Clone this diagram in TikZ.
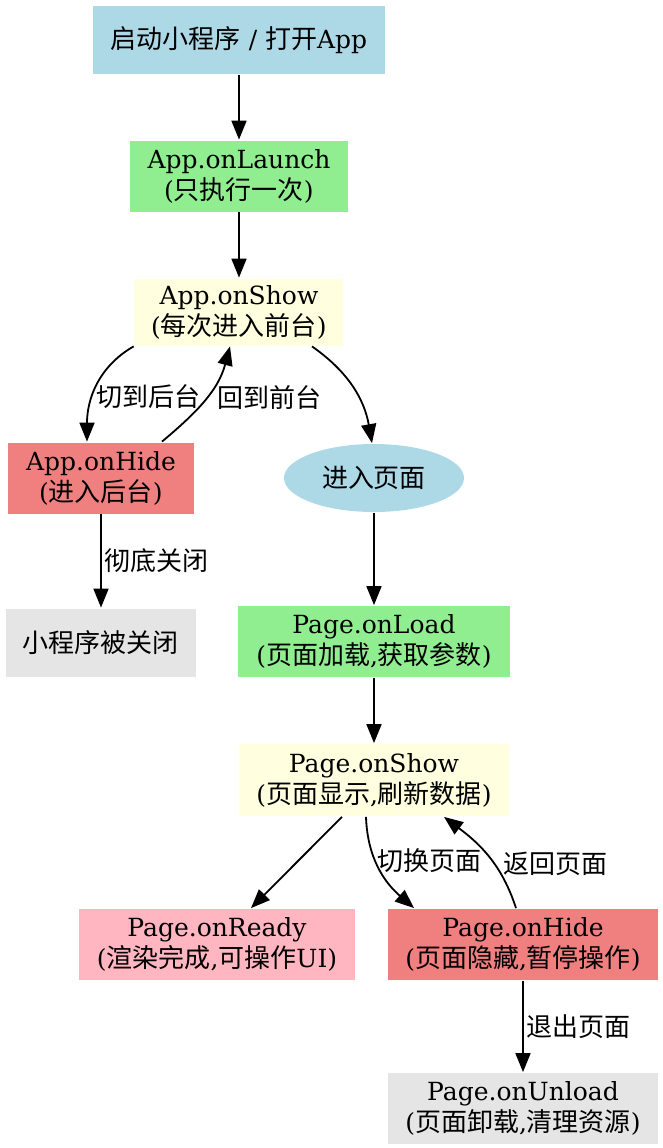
\documentclass[tikz,border=0pt]{standalone}
\usepackage{fontspec}
\setmainfont{DejaVu Serif}
\newfontfamily\cjk{Noto Sans CJK SC}[Scale=1.04]
\usetikzlibrary{arrows.meta, positioning, shapes.geometric}
\definecolor{lblue}{HTML}{ADD8E6}
\definecolor{lgreen}{HTML}{90EE90}
\definecolor{lyellow}{HTML}{FFFFE0}
\definecolor{lcoral}{HTML}{F08080}
\definecolor{lpink}{HTML}{FFB6C1}
\definecolor{lgray}{HTML}{E5E5E5}

\begin{document}
\begin{tikzpicture}[>={Triangle[length=9.5pt,width=7.5pt]}, on grid, line width=0.9pt,
  every node/.style={font=\fontsize{12.5}{15.5}\selectfont, align=center, inner sep=0pt},
  box/.style={rectangle, minimum height=35.5pt},
  lbl/.style={right, inner sep=1.5pt, font=\fontsize{12.5}{15.5}\selectfont\cjk}]

\useasboundingbox (-119.5pt,20pt) rectangle (212pt,-554pt);

% アプリ側ノード
\node[box, fill=lblue, minimum width=146pt, minimum height=34pt] (start) {{\cjk 启动小程序} / {\cjk 打开}App};
\node[box, fill=lgreen, minimum width=109pt] (launch) [below=68pt of start] {App.onLaunch\\({\cjk 只执行一次})};
\node[box, fill=lyellow, minimum width=104.5pt, minimum height=33.5pt] (appshow) [below=68pt of launch] {App.onShow\\({\cjk 每次进入前台})};
\node[box, fill=lcoral, minimum width=93pt] (apphide) [below left=83pt and 69pt of appshow] {App.onHide\\({\cjk 进入后台})};
\node[box, fill=lgray, minimum width=95pt, minimum height=34pt] (closed) [below=82.25pt of apphide] {{\cjk 小程序被关闭}};

% ページ側ノード
\node[ellipse, fill=lblue, minimum width=90pt, minimum height=34pt] (enter) [below right=83pt and 67.5pt of appshow] {{\cjk 进入页面}};
\node[box, fill=lgreen, minimum width=135.5pt] (load) [below=81.75pt of enter] {Page.onLoad\\({\cjk 页面加载},{\cjk 获取参数})};
\node[box, fill=lyellow, minimum width=135pt, minimum height=36pt] (pageshow) [below=69.25pt of load] {Page.onShow\\({\cjk 页面显示},{\cjk 刷新数据})};
\node[box, fill=lpink, minimum width=138pt] (ready) [below left=82.25pt and 78.5pt of pageshow] {Page.onReady\\({\cjk 渲染完成},{\cjk 可操作}UI)};
\node[box, fill=lcoral, minimum width=135pt] (pagehide) [below right=82.25pt and 74.5pt of pageshow] {Page.onHide\\({\cjk 页面隐藏},{\cjk 暂停操作})};
\node[box, fill=lgray, minimum width=134.5pt] (unload) [below=82pt of pagehide] {Page.onUnload\\({\cjk 页面卸载},{\cjk 清理资源})};

% 矢印
\draw[->] (start) -- (launch);
\draw[->] (launch) -- (appshow);
\draw[->] (appshow.south west) to[out=210, in=90] node[lbl, pos=0.6] {切到后台} ([xshift=-7pt]apphide.north);
\draw[->] ([xshift=30.5pt]apphide.north) to[out=40, in=-105] node[lbl, pos=0.52, xshift=4pt] {回到前台} ([xshift=-4.5pt]appshow.south);
\draw[->] ([xshift=36.5pt]appshow.south) to[out=-35, in=100] ([xshift=-1pt]enter.north);
\draw[->] (apphide) -- node[lbl] {彻底关闭} (closed);
\draw[->] (enter) -- (load);
\draw[->] (load) -- (pageshow);
\draw[->] ([xshift=-16pt]pageshow.south) -- ([xshift=17pt]ready.north);
\draw[->] ([xshift=-4pt]pageshow.south) to[out=-88, in=139] node[lbl, pos=0.42, xshift=-1pt] {切换页面} ([xshift=-54.5pt]pagehide.north);
\draw[->] ([xshift=-3.5pt]pagehide.north) to[out=108, in=-37] node[lbl, pos=0.42, xshift=3pt] {返回页面} ([xshift=35pt]pageshow.south);
\draw[->] (pagehide) -- node[lbl] {退出页面} (unload);

\end{tikzpicture}
\end{document}
